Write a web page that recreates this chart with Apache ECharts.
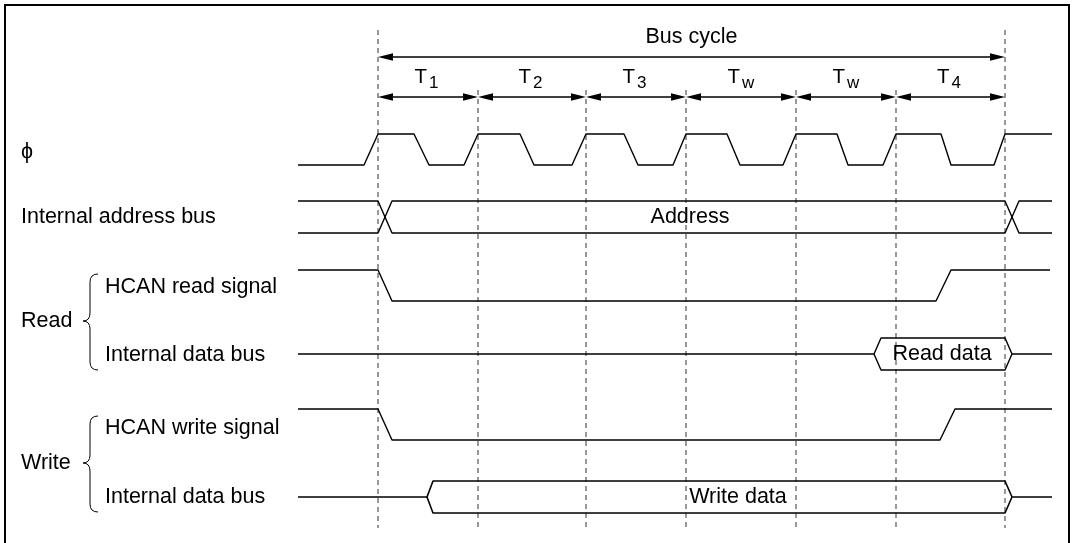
<!DOCTYPE html>
<html><head><meta charset="utf-8">
<script src="https://cdn.jsdelivr.net/npm/echarts@6/dist/echarts.min.js"></script>
<style>html,body{margin:0;padding:0;background:#fff}#c{width:1074px;height:543px}</style>
</head><body><div id="c"></div>
<script>
// ---- data (time positions in axis units) ----
const cycleEdges = [378, 478, 586, 686, 796, 896, 1005];
const cycleNames = ['T', 'T', 'T', 'T', 'T', 'T'];
const cycleSubs = ['1', '2', '3', 'w', 'w', '4'];
const busCycleLabel = 'Bus cycle';
const signalLabels = ['\u03D5', 'Internal address bus', 'HCAN read signal', 'Internal data bus', 'HCAN write signal', 'Internal data bus'];
const groupLabels = ['Read', 'Write'];
const busTexts = ['Address', 'Read data', 'Write data'];
const clockX = [298, 364, 378, 414, 429, 464, 478, 520, 534, 572, 586, 624, 638, 673, 686, 727, 740, 783, 796, 837, 848, 883, 896, 941, 951, 994, 1005, 1052];
const clockLevel = [0, 0, 1, 1, 0, 0, 1, 1, 0, 0, 1, 1, 0, 0, 1, 1, 0, 0, 1, 1, 0, 0, 1, 1, 0, 0, 1, 1];
const addrX = [298, 378, 392, 1005, 1019, 1052];
const readSigX = [298, 378, 392, 936, 951, 1050];
const readSigLevel = [1, 1, 0, 0, 1, 1];
const readDataX = [298, 874, 881, 1005, 1012, 1052];
const writeSigX = [298, 378, 392, 940, 955, 1052];
const writeSigLevel = [1, 1, 0, 0, 1, 1];
const writeDataX = [298, 427, 433, 1005, 1012, 1052];

// ---- layout (lane positions on the vertical axis, styles) ----
const L = {
  fontFamily: '"Liberation Sans", Arial, "DejaVu Sans", sans-serif',
  fontSize: 21.5, tSize: 20.5, subSize: 17,
  busCycleY: 57, busCycleTextY: 37, tArrowY: 97, tTextY: 77, subDy: 6,
  dashTopOuter: 30, dashTopInner: 90, dashBottom: 528,
  clock: [134, 165], addr: [201, 233], readSig: [270, 301], readData: [338, 354, 370],
  writeSig: [409, 440], writeData: [481, 497, 513],
  labelX: 21, subLabelX: 105,
  labelY: [152, 217, 287, 355, 428, 497], groupY: [321, 463],
  braces: [[274, 321, 370], [416, 463, 512]], braceX: [98, 90, 83],
  busTextPos: [[690, 217], [942, 354], [738, 497]],
  lineColor: '#000', lineW: 1.4
};
const font = (s) => s + 'px ' + L.fontFamily;

function wave(xs, lv, lane) {
  return xs.map((x, i) => [x, lv[i] ? lane[0] : lane[1]]);
}
function lineSeries(data, w) {
  return { type: 'line', data: data, symbol: 'none', silent: true, animation: false,
    lineStyle: { color: L.lineColor, width: w || L.lineW }, z: 3 };
}
function busTop(xs, lane) {
  return [[xs[0], lane[1]], [xs[1], lane[1]], [xs[2], lane[0]], [xs[3], lane[0]], [xs[4], lane[1]], [xs[5], lane[1]]];
}
function busBottom(xs, lane) {
  return [[xs[1], lane[1]], [xs[2], lane[2]], [xs[3], lane[2]], [xs[4], lane[1]]];
}

const series = [];
// dashed cycle boundaries
series.push({ type: 'custom', coordinateSystem: 'cartesian2d', silent: true, clip: false, z: 1,
  data: cycleEdges.map(x => [x, L.dashBottom]),
  renderItem: (p, api) => {
    const i = p.dataIndex, x = api.value(0);
    const top = (i === 0 || i === cycleEdges.length - 1) ? L.dashTopOuter : L.dashTopInner;
    const a = api.coord([x, top]), b = api.coord([x, L.dashBottom]);
    return { type: 'line', shape: { x1: a[0], y1: a[1], x2: b[0], y2: b[1] },
      style: { stroke: '#333', lineWidth: 1, lineDash: [5, 4] } };
  }
});
// arrows (bus cycle + T states)
const arrowData = [[cycleEdges[0], cycleEdges[cycleEdges.length - 1], L.busCycleY]];
for (let i = 0; i < cycleEdges.length - 1; i++) arrowData.push([cycleEdges[i], cycleEdges[i + 1], L.tArrowY]);
series.push({ type: 'custom', coordinateSystem: 'cartesian2d', silent: true, clip: false, z: 4,
  data: arrowData,
  renderItem: (p, api) => {
    const a = api.coord([api.value(0), api.value(2)]), b = api.coord([api.value(1), api.value(2)]);
    const hl = 15, hw = 3.8;
    return { type: 'group', children: [
      { type: 'line', shape: { x1: a[0] + 4, y1: a[1], x2: b[0] - 4, y2: b[1] }, style: { stroke: '#000', lineWidth: 1.3 } },
      { type: 'polygon', shape: { points: [[a[0], a[1]], [a[0] + hl, a[1] - hw], [a[0] + hl, a[1] + hw]] }, style: { fill: '#000' } },
      { type: 'polygon', shape: { points: [[b[0], b[1]], [b[0] - hl, b[1] - hw], [b[0] - hl, b[1] + hw]] }, style: { fill: '#000' } }
    ] };
  }
});
// T labels with subscripts
series.push({ type: 'custom', coordinateSystem: 'cartesian2d', silent: true, clip: false, z: 5,
  data: cycleNames.map((n, i) => [(cycleEdges[i] + cycleEdges[i + 1]) / 2, L.tTextY]),
  renderItem: (p, api) => {
    const c = api.coord([api.value(0), api.value(1)]);
    const i = p.dataIndex;
    return { type: 'group', children: [
      { type: 'text', x: c[0] - 1, y: c[1], style: { text: cycleNames[i], font: font(L.tSize), fill: '#000', align: 'right', verticalAlign: 'middle' } },
      { type: 'text', x: c[0] + 1, y: c[1] + L.subDy, style: { text: cycleSubs[i], font: font(L.subSize), fill: '#000', align: 'left', verticalAlign: 'middle' } }
    ] };
  }
});
// generic text series
function textSeries(items, align) {
  return { type: 'custom', coordinateSystem: 'cartesian2d', silent: true, clip: false, z: 6,
    data: items.map(t => [t[0], t[1]]),
    renderItem: (p, api) => {
      const c = api.coord([api.value(0), api.value(1)]);
      return { type: 'text', x: c[0], y: c[1], style: { text: items[p.dataIndex][2], font: font(L.fontSize), fill: '#000', align: align, verticalAlign: 'middle' } };
    }
  };
}
series.push(textSeries([[(cycleEdges[0] + cycleEdges[cycleEdges.length - 1]) / 2, L.busCycleTextY, busCycleLabel]], 'center'));
series.push(textSeries(busTexts.map((t, i) => [L.busTextPos[i][0], L.busTextPos[i][1], t]), 'center'));
series.push(textSeries(signalLabels.map((t, i) => [(i < 2 ? L.labelX : L.subLabelX), L.labelY[i], t]), 'left'));
series.push(textSeries(groupLabels.map((t, i) => [L.labelX, L.groupY[i], t]), 'left'));
// braces
series.push({ type: 'custom', coordinateSystem: 'cartesian2d', silent: true, clip: false, z: 6,
  data: L.braces.map(b => [L.braceX[1], b[1]]),
  renderItem: (p, api) => {
    const b = L.braces[p.dataIndex];
    const e = api.coord([L.braceX[0], b[0]]), v = api.coord([L.braceX[1], b[1]]), pt = api.coord([L.braceX[2], b[1]]);
    const bot = api.coord([L.braceX[0], b[2]]);
    const r = 8, xe = e[0], xv = v[0], xp = pt[0], yt = e[1], ym = v[1], yb = bot[1];
    const d = `M${xe},${yt} Q${xv},${yt} ${xv},${yt + r} L${xv},${ym - r} Q${xv},${ym} ${xp},${ym} Q${xv},${ym} ${xv},${ym + r} L${xv},${yb - r} Q${xv},${yb} ${xe},${yb}`;
    return { type: 'path', shape: { pathData: d }, style: { stroke: '#000', lineWidth: 1, fill: null } };
  }
});
// waveforms
series.push(lineSeries(wave(clockX, clockLevel, L.clock)));
series.push(lineSeries(addrX.map((x, i) => [x, [L.addr[0], L.addr[0], L.addr[1], L.addr[1], L.addr[0], L.addr[0]][i]])));
series.push(lineSeries(addrX.map((x, i) => [x, [L.addr[1], L.addr[1], L.addr[0], L.addr[0], L.addr[1], L.addr[1]][i]])));
series.push(lineSeries(wave(readSigX, readSigLevel, L.readSig)));
series.push(lineSeries(busTop(readDataX, L.readData)));
series.push(lineSeries(busBottom(readDataX, L.readData)));
series.push(lineSeries(wave(writeSigX, writeSigLevel, L.writeSig)));
series.push(lineSeries(busTop(writeDataX, L.writeData), 1.6));
series.push(lineSeries(busBottom(writeDataX, L.writeData), 1.6));

const chart = echarts.init(document.getElementById('c'), null, { renderer: 'canvas' });
chart.setOption({
  animation: false,
  backgroundColor: '#fff',
  grid: { left: 0, right: 0, top: 0, bottom: 0, containLabel: false },
  xAxis: { type: 'value', min: 0, max: 1074, show: false },
  yAxis: { type: 'value', min: 0, max: 543, inverse: true, show: false },
  graphic: [{ type: 'rect', shape: { x: 5, y: 5, width: 1064, height: 600 }, style: { fill: null, stroke: '#000', lineWidth: 2 }, silent: true }],
  series: series
});
</script></body></html>
